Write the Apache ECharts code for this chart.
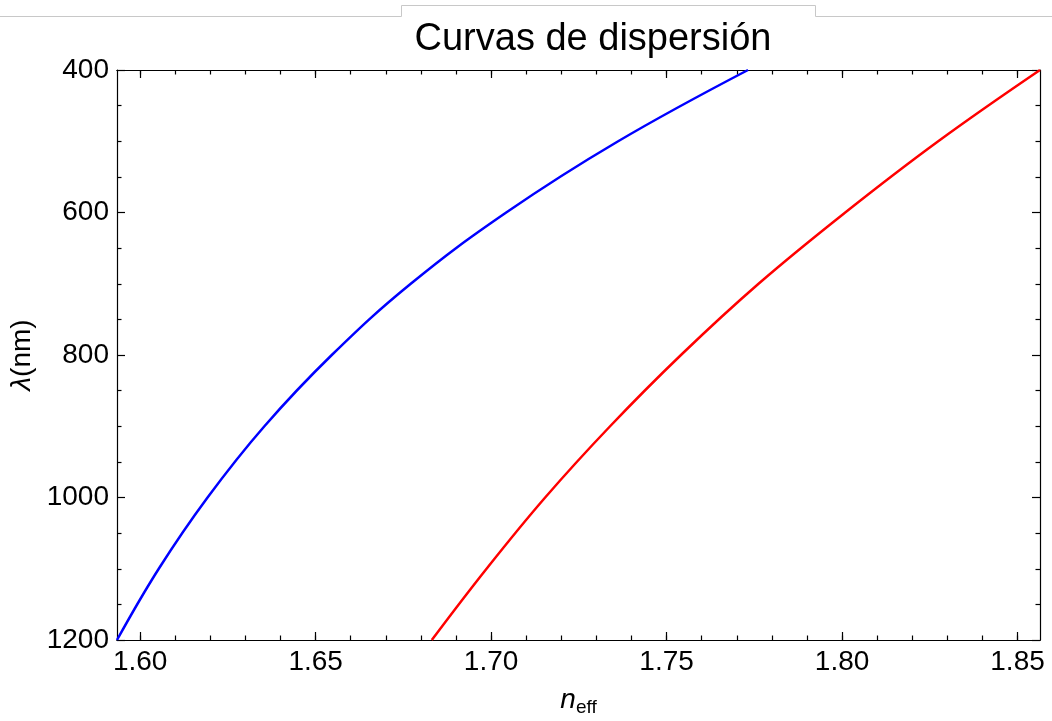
<!DOCTYPE html>
<html>
<head>
<meta charset="utf-8">
<script src="https://cdn.jsdelivr.net/npm/echarts@6/dist/echarts.min.js"></script>
<style>
html,body{margin:0;padding:0;background:#fff;}
#chart{width:1052px;height:721px;}
</style>
</head>
<body>
<div id="chart"></div>
<script>
// Data
const wavelengths = [400, 500, 600, 700, 800, 900, 1000, 1100, 1200];
const blueNeff = [1.7732, 1.7362, 1.7043, 1.6771, 1.6546, 1.6354, 1.6192, 1.6053, 1.5934];
const redNeff  = [1.8564, 1.8274, 1.8009, 1.7762, 1.7541, 1.7339, 1.7154, 1.6987, 1.6831];
const xMajorTicks = [1.60, 1.65, 1.70, 1.75, 1.80, 1.85];
const xMinorTicks = [1.60,1.61,1.62,1.63,1.64,1.65,1.66,1.67,1.68,1.69,1.70,1.71,1.72,1.73,1.74,1.75,1.76,1.77,1.78,1.79,1.80,1.81,1.82,1.83,1.84,1.85];
const xRange = [1.5934, 1.8564];
const yRange = [400, 1200];

const bluePts = wavelengths.map((w, i) => [blueNeff[i], w]);
const redPts = wavelengths.map((w, i) => [redNeff[i], w]);

const FONT = '"Liberation Sans", Arial, sans-serif';
const chart = echarts.init(document.getElementById('chart'), null, {renderer: 'canvas'});

function xAx(pos, ticks, len, labels) {
  return {
    type: 'value', position: pos, min: xRange[0], max: xRange[1],
    axisLine: {show: true, onZero: false, lineStyle: {color: '#000', width: 1.2}},
    axisTick: {show: true, inside: true, length: len, customValues: ticks, lineStyle: {color: '#000', width: 1.2}},
    axisLabel: labels ? {show: true, customValues: xMajorTicks, formatter: v => v.toFixed(2),
      fontFamily: FONT, fontSize: 28, color: '#000', margin: 8} : {show: false},
    splitLine: {show: false}
  };
}

const option = {
  animation: false,
  backgroundColor: '#fff',
  title: {
    text: 'Curvas de dispersión', left: 588, top: 16, textAlign: 'center',
    textStyle: {fontFamily: FONT, fontSize: 38, fontWeight: 'normal', color: '#000'}
  },
  grid: {left: 117, right: 12, top: 70, bottom: 81, outerBoundsMode: 'none', containLabel: false},
  xAxis: [
    Object.assign(xAx('bottom', xMajorTicks, 8, true), {
      name: '{n|n}{s|eff}', nameLocation: 'middle', nameGap: 44,
      nameTextStyle: {rich: {
        n: {fontFamily: FONT, fontSize: 28, fontStyle: 'italic', color: '#000'},
        s: {fontFamily: FONT, fontSize: 19, color: '#000', padding: [14, 0, 0, 0]}
      }}
    }),
    xAx('bottom', xMinorTicks, 4.5, false),
    xAx('top', xMajorTicks, 8, false),
    xAx('top', xMinorTicks, 4.5, false)
  ],
  yAxis: [
    {
      type: 'value', inverse: true, min: yRange[0], max: yRange[1], interval: 200, position: 'left',
      axisLine: {show: true, lineStyle: {color: '#000', width: 1.2}},
      axisTick: {show: true, inside: true, length: 8, lineStyle: {color: '#000', width: 1.2}},
      minorTick: {show: true, splitNumber: 4, length: 4.5, lineStyle: {color: '#000', width: 1.2}},
      axisLabel: {fontFamily: FONT, fontSize: 28, color: '#000', margin: 8, formatter: v => String(v)},
      splitLine: {show: false}, minorSplitLine: {show: false},
      name: '{l|λ}(nm)', nameLocation: 'middle', nameGap: 60, nameRotate: 90,
      nameTextStyle: {fontFamily: FONT, fontSize: 28, color: '#000',
        rich: {l: {fontFamily: FONT, fontSize: 28, fontStyle: 'italic', color: '#000'}}}
    },
    {
      type: 'value', inverse: true, min: yRange[0], max: yRange[1], interval: 200, position: 'right',
      axisLine: {show: true, lineStyle: {color: '#000', width: 1.2}},
      axisTick: {show: true, inside: true, length: 8, lineStyle: {color: '#000', width: 1.2}},
      minorTick: {show: true, splitNumber: 4, length: 4.5, lineStyle: {color: '#000', width: 1.2}},
      axisLabel: {show: false},
      splitLine: {show: false}
    }
  ],
  series: [
    {type: 'line', name: 'azul', data: bluePts, smooth: 0.4, showSymbol: false, clip: true,
      lineStyle: {color: '#0000ff', width: 2.5}, xAxisIndex: 0, yAxisIndex: 0},
    {type: 'line', name: 'rojo', data: redPts, smooth: 0.4, showSymbol: false, clip: true,
      lineStyle: {color: '#ff0000', width: 2.5}, xAxisIndex: 0, yAxisIndex: 0}
  ],
  graphic: [
    {type: 'polyline', silent: true, shape: {points: [[0, 16.5], [401.5, 16.5], [401.5, 5.5], [815.5, 5.5], [815.5, 16.5], [1052, 16.5]]},
      style: {stroke: '#c8c8c8', lineWidth: 1, fill: null}}
  ]
};
chart.setOption(option);
</script>
</body>
</html>
